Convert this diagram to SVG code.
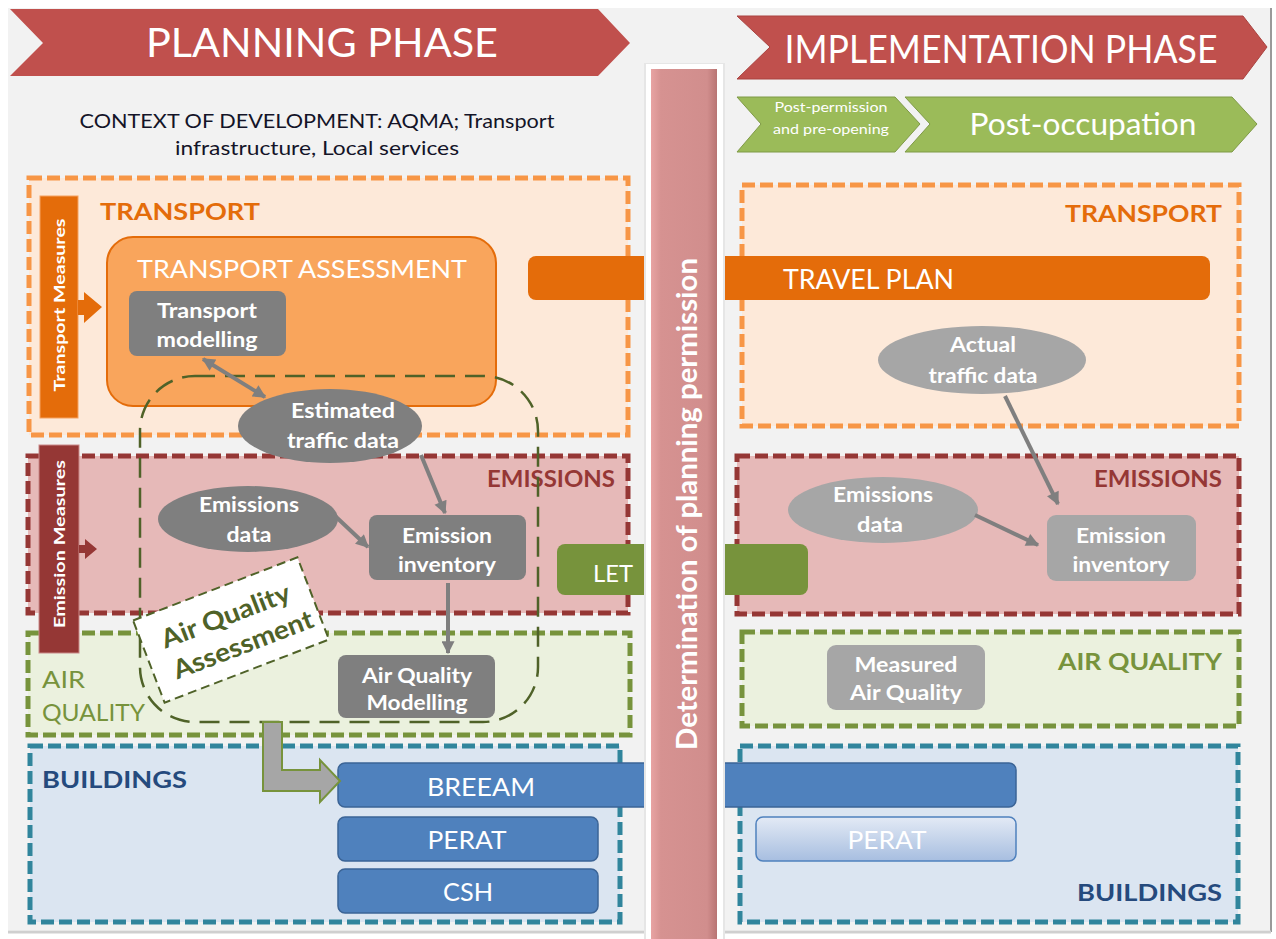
<svg xmlns="http://www.w3.org/2000/svg" width="1276" height="939" viewBox="0 0 1276 939">
<defs>
<style>
text{font-family:"Lato","Liberation Sans",sans-serif;}
.w{fill:#ffffff;}
.b{font-weight:bold;}
.mid{text-anchor:middle;}
.end{text-anchor:end;}
.zoneT{fill:#fde9d9;stroke:#f79646;stroke-width:5;stroke-dasharray:13 5;}
.zoneE{fill:#e6b9b8;stroke:#953735;stroke-width:5;stroke-dasharray:13 5;}
.zoneA{fill:#ebf1de;stroke:#77933c;stroke-width:5;stroke-dasharray:13 5;}
.zoneB{fill:#dbe5f1;stroke:#31859c;stroke-width:5;stroke-dasharray:13 5;}
.g1{fill:#7f7f7f;}
.g2{fill:#a6a6a6;}
.blue{fill:#4f81bd;stroke:#3b6496;stroke-width:1.5;}
.con{stroke:#7f7f7f;stroke-width:4;fill:none;}
.nt{font-size:20px;font-weight:bold;fill:#ffffff;text-anchor:middle;}
</style>
<marker id="ah" viewBox="0 0 10 10" refX="9" refY="5" markerWidth="15" markerHeight="13" markerUnits="userSpaceOnUse" orient="auto-start-reverse">
<path d="M0,0 L10,5 L0,10 z" fill="#7f7f7f"/>
</marker>
<linearGradient id="pinkbar" x1="0" y1="0" x2="1" y2="0">
<stop offset="0" stop-color="#e8a3a3"/>
<stop offset="0.15" stop-color="#d69291"/>
<stop offset="0.85" stop-color="#d18e8d"/>
<stop offset="1" stop-color="#b87473"/>
</linearGradient>
<linearGradient id="peratR" x1="0" y1="0" x2="0" y2="1">
<stop offset="0" stop-color="#e3eaf5"/>
<stop offset="1" stop-color="#a7bee0"/>
</linearGradient>
</defs>

<rect x="0" y="0" width="1276" height="939" fill="#ffffff"/>
<rect x="8" y="8" width="1262" height="922" fill="#f2f2f2"/>
<line x1="1271" y1="8" x2="1271" y2="932" stroke="#9a9a9a" stroke-width="2"/>
<line x1="8" y1="932" x2="1271" y2="932" stroke="#cfcfcf" stroke-width="3"/>

<g id="planning-phase">
<polygon points="10,9 598,9 630,43 598,76 10,76 43,43" fill="#c0504d"/>
<text x="322" y="57" class="w mid" font-size="41" textLength="352" lengthAdjust="spacingAndGlyphs">PLANNING PHASE</text>
</g>
<g id="implementation-phase">
<polygon points="737,16 1243,16 1267,47 1243,79 737,79 770,47" fill="#c0504d" stroke="#a94340" stroke-width="1"/>
<text x="1001" y="63" class="w mid" font-size="38" textLength="433" lengthAdjust="spacingAndGlyphs">IMPLEMENTATION PHASE</text>
</g>
<g id="post-permission">
<polygon points="737,97 895,97 920,124 895,152 737,152 761,124" fill="#9bbb59" stroke="#7f9a47" stroke-width="1"/>
<text x="831" y="112" class="w mid" font-size="13" textLength="113" lengthAdjust="spacingAndGlyphs">Post-permission</text>
<text x="831" y="134" class="w mid" font-size="13" textLength="116" lengthAdjust="spacingAndGlyphs">and pre-opening</text>
</g>
<g id="post-occupation">
<polygon points="905,97 1232,97 1257,124 1232,152 905,152 930,124" fill="#9bbb59" stroke="#7f9a47" stroke-width="1"/>
<text x="1083" y="135" class="w mid" font-size="31" textLength="227" lengthAdjust="spacingAndGlyphs">Post-occupation</text>
</g>

<g id="context">
<text x="317" y="128" class="mid" font-size="20" fill="#141428" textLength="475" lengthAdjust="spacingAndGlyphs">CONTEXT OF DEVELOPMENT: AQMA; Transport</text>
<text x="317" y="155" class="mid" font-size="20" fill="#141428" textLength="284" lengthAdjust="spacingAndGlyphs">infrastructure, Local services</text>
</g>

<g id="transport-zone-left">
<rect x="29" y="178" width="599" height="257" class="zoneT"/>
<text x="100" y="220" class="b" font-size="23" fill="#e46c0a" textLength="160" lengthAdjust="spacingAndGlyphs">TRANSPORT</text>
</g>
<g id="transport-zone-right">
<rect x="742" y="185" width="497" height="241" class="zoneT"/>
<text x="1222" y="222" class="b end" font-size="23" fill="#e46c0a" textLength="157" lengthAdjust="spacingAndGlyphs">TRANSPORT</text>
</g>
<g id="emissions-zone-left">
<rect x="28" y="456" width="600" height="157" class="zoneE"/>
<text x="615" y="487" class="end b" font-size="22" fill="#953735" textLength="128" lengthAdjust="spacingAndGlyphs">EMISSIONS</text>
</g>
<g id="emissions-zone-right">
<rect x="737" y="456" width="502" height="158" class="zoneE"/>
<text x="1222" y="487" class="end b" font-size="22" fill="#953735" textLength="128" lengthAdjust="spacingAndGlyphs">EMISSIONS</text>
</g>
<g id="airquality-zone-left">
<rect x="28" y="633" width="602" height="102" class="zoneA"/>
<text x="42" y="688" font-size="23" fill="#77933c" textLength="43" lengthAdjust="spacingAndGlyphs">AIR</text>
<text x="42" y="721" font-size="23" fill="#77933c" textLength="103" lengthAdjust="spacingAndGlyphs">QUALITY</text>
</g>
<g id="airquality-zone-right">
<rect x="742" y="632" width="497" height="94" class="zoneA"/>
<text x="1222" y="670" class="end b" font-size="23" fill="#77933c" textLength="164" lengthAdjust="spacingAndGlyphs">AIR QUALITY</text>
</g>
<g id="buildings-zone-left">
<rect x="30" y="746" width="590" height="176" class="zoneB"/>
<text x="42" y="788" class="b" font-size="23" fill="#254a7d" textLength="145" lengthAdjust="spacingAndGlyphs">BUILDINGS</text>
</g>
<g id="buildings-zone-right">
<rect x="740" y="746" width="498" height="176" class="zoneB"/>
<text x="1222" y="901" class="end b" font-size="23" fill="#254a7d" textLength="145" lengthAdjust="spacingAndGlyphs">BUILDINGS</text>
</g>

<g id="transport-assessment">
<rect x="107" y="237" width="389" height="169" rx="26" fill="#f9a55c" stroke="#e46c0a" stroke-width="2"/>
<text x="302" y="278" class="w mid" font-size="25" textLength="330" lengthAdjust="spacingAndGlyphs">TRANSPORT ASSESSMENT</text>
</g>

<g id="air-quality-assessment-area">
<rect x="140" y="376" width="398" height="346" rx="55" fill="none" stroke="#4f6228" stroke-width="2.5" stroke-dasharray="20 10"/>
</g>

<g id="transport-measures">
<rect x="40" y="196" width="38" height="222" fill="#e46c0a" stroke="#f5a261" stroke-width="1"/>
<polygon points="78,300 84,300 84,292 102,307 84,323 84,315 78,315" fill="#e46c0a"/>
<text transform="translate(65,305) rotate(-90)" class="w b mid" font-size="15" textLength="173" lengthAdjust="spacingAndGlyphs">Transport Measures</text>
</g>
<g id="emission-measures">
<rect x="39" y="445" width="40" height="208" fill="#953735" stroke="#c98a89" stroke-width="1"/>
<polygon points="79,545 85,545 85,539 97,549 85,559 85,553 79,553" fill="#953735"/>
<text transform="translate(65,544) rotate(-90)" class="w b mid" font-size="15" textLength="168" lengthAdjust="spacingAndGlyphs">Emission Measures</text>
</g>

<g id="transport-modelling">
<rect x="129" y="291" width="157" height="65" rx="8" class="g1"/>
<text x="207" y="318" class="nt" textLength="100" lengthAdjust="spacingAndGlyphs">Transport</text>
<text x="207" y="347" class="nt" textLength="101" lengthAdjust="spacingAndGlyphs">modelling</text>
</g>
<g id="estimated-traffic-data">
<ellipse cx="330" cy="426" rx="92" ry="37" class="g1"/>
<text x="343" y="418" class="nt" textLength="104" lengthAdjust="spacingAndGlyphs">Estimated</text>
<text x="343" y="448" class="nt" textLength="112" lengthAdjust="spacingAndGlyphs">traffic data</text>
</g>
<g id="emissions-data-left">
<ellipse cx="248" cy="519" rx="90" ry="33" class="g1"/>
<text x="249" y="512" class="nt" textLength="100" lengthAdjust="spacingAndGlyphs">Emissions</text>
<text x="249" y="542" class="nt" textLength="45" lengthAdjust="spacingAndGlyphs">data</text>
</g>
<g id="emission-inventory-left">
<rect x="369" y="515" width="157" height="65" rx="8" class="g1"/>
<text x="447" y="543" class="nt" textLength="90" lengthAdjust="spacingAndGlyphs">Emission</text>
<text x="447" y="572" class="nt" textLength="98" lengthAdjust="spacingAndGlyphs">inventory</text>
</g>
<g id="air-quality-modelling">
<rect x="338" y="655" width="157" height="63" rx="8" class="g1"/>
<text x="417" y="683" class="nt" textLength="110" lengthAdjust="spacingAndGlyphs">Air Quality</text>
<text x="417" y="710" class="nt" textLength="101" lengthAdjust="spacingAndGlyphs">Modelling</text>
</g>
<g id="actual-traffic-data">
<ellipse cx="982" cy="360" rx="104" ry="34" class="g2"/>
<text x="983" y="352" class="nt" textLength="66" lengthAdjust="spacingAndGlyphs">Actual</text>
<text x="983" y="383" class="nt" textLength="109" lengthAdjust="spacingAndGlyphs">traffic data</text>
</g>
<g id="emissions-data-right">
<ellipse cx="883" cy="510" rx="95" ry="33" class="g2"/>
<text x="883" y="502" class="nt" font-weight="normal" textLength="100" lengthAdjust="spacingAndGlyphs">Emissions</text>
<text x="880" y="532" class="nt" font-weight="normal" textLength="46" lengthAdjust="spacingAndGlyphs">data</text>
</g>
<g id="emission-inventory-right">
<rect x="1047" y="515" width="149" height="66" rx="9" class="g2"/>
<text x="1121" y="543" class="nt" font-weight="normal" textLength="90" lengthAdjust="spacingAndGlyphs">Emission</text>
<text x="1121" y="572" class="nt" font-weight="normal" textLength="97" lengthAdjust="spacingAndGlyphs">inventory</text>
</g>
<g id="measured-air-quality">
<rect x="827" y="645" width="158" height="65" rx="9" class="g2"/>
<text x="906" y="672" class="nt" font-weight="normal" textLength="103" lengthAdjust="spacingAndGlyphs">Measured</text>
<text x="906" y="700" class="nt" font-weight="normal" textLength="112" lengthAdjust="spacingAndGlyphs">Air Quality</text>
</g>

<g id="travel-plan">
<rect x="528" y="256" width="682" height="44" rx="8" fill="#e46c0a"/>
<text x="783" y="289" class="w" font-size="26" textLength="171" lengthAdjust="spacingAndGlyphs">TRAVEL PLAN</text>
</g>
<g id="let">
<rect x="557" y="544" width="251" height="51" rx="8" fill="#77933c"/>
<text x="613" y="582" class="w mid" font-size="23" textLength="40" lengthAdjust="spacingAndGlyphs">LET</text>
</g>
<g id="breeam">
<rect x="338" y="763" width="678" height="44" rx="7" class="blue"/>
<text x="481" y="796" class="w mid" font-size="25" textLength="108" lengthAdjust="spacingAndGlyphs">BREEAM</text>
</g>
<g id="perat-left">
<rect x="338" y="817" width="260" height="44" rx="7" class="blue"/>
<text x="467" y="849" class="w mid" font-size="25" textLength="79" lengthAdjust="spacingAndGlyphs">PERAT</text>
</g>
<g id="csh">
<rect x="338" y="869" width="260" height="44" rx="7" class="blue"/>
<text x="468" y="901" class="w mid" font-size="25" textLength="50" lengthAdjust="spacingAndGlyphs">CSH</text>
</g>
<g id="perat-right">
<rect x="756" y="817" width="260" height="44" rx="7" fill="url(#peratR)" stroke="#4f81bd" stroke-width="1.5"/>
<text x="887" y="849" class="w mid" font-size="25" textLength="79" lengthAdjust="spacingAndGlyphs">PERAT</text>
</g>

<g id="planning-permission">
<rect x="644" y="63" width="81" height="876" fill="#e6e6e6"/>
<rect x="646" y="64" width="77" height="875" fill="#ffffff"/>
<rect x="651" y="69" width="66" height="870" fill="url(#pinkbar)"/>
<text transform="translate(697,504) rotate(-90)" class="w b mid" font-size="28" textLength="492" lengthAdjust="spacingAndGlyphs">Determination of planning permission</text>
</g>

<g id="connectors">
<line x1="203" y1="359" x2="265" y2="397" class="con" marker-start="url(#ah)" marker-end="url(#ah)"/>
<line x1="421" y1="455" x2="445" y2="513" class="con" marker-end="url(#ah)"/>
<line x1="333" y1="514" x2="368" y2="547" class="con" marker-end="url(#ah)"/>
<line x1="448" y1="583" x2="448" y2="653" class="con" marker-end="url(#ah)"/>
<line x1="1005" y1="396" x2="1058" y2="504" class="con" marker-end="url(#ah)"/>
<line x1="975" y1="515" x2="1038" y2="545" class="con" marker-end="url(#ah)"/>
</g>

<g id="air-quality-assessment-label">
<g transform="translate(231,630) rotate(-21)">
<rect x="-88" y="-44" width="176" height="88" fill="#ffffff" stroke="#4f6228" stroke-width="2" stroke-dasharray="9 5"/>
<text x="0" y="-6" class="b mid" font-size="26" fill="#4f6228" textLength="136" lengthAdjust="spacingAndGlyphs">Air Quality</text>
<text x="6" y="27" class="b mid" font-size="26" fill="#4f6228" textLength="148" lengthAdjust="spacingAndGlyphs">Assessment</text>
</g>
</g>

<g id="aqa-to-breeam">
<polygon points="263,722 282,722 282,770 320,770 320,760 340,781 320,802 320,791 263,791" fill="#a6a6a6" stroke="#77933c" stroke-width="2"/>
</g>
</svg>
